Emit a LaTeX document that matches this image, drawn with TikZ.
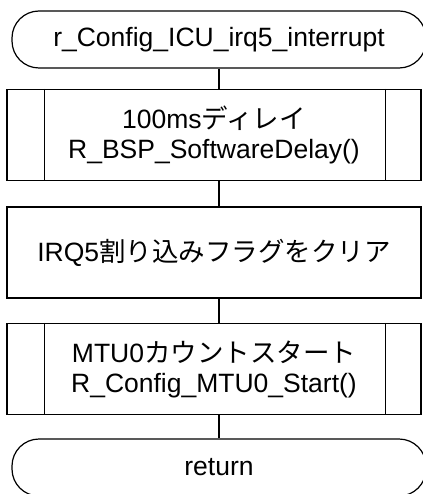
\documentclass[tikz,border=0pt]{standalone}
\usepackage{fontspec}
\setmainfont{Liberation Sans}
\newfontfamily\jpfont{Noto Sans CJK JP}

\tikzset{
  flow/.style={draw, line width=1.2pt, align=center, inner sep=2pt,
    font=\fontsize{26.5}{30}\selectfont},
  term/.style={flow, rounded corners=27pt, minimum width=414pt, minimum height=57pt},
  proc/.style={flow, minimum width=414pt, minimum height=91pt},
}

\begin{document}
\begin{tikzpicture}[x=1pt, y=-1pt]
    \useasboundingbox (0, 0) rectangle (422, 494);
    % flow nodes
    \node[term] (start) at (219, 39.5) {r\_Config\_ICU\_irq5\_interrupt};
    \node[proc] (delay) at (214, 135) {100ms{\jpfont ディレイ}\\R\_BSP\_SoftwareDelay()};
    \node[proc] (clear) at (214, 252.5) {IRQ5{\jpfont 割り込みフラグをクリア}};
    \node[proc] (mtu) at (214, 369) {MTU0{\jpfont カウントスタート}\\R\_Config\_MTU0\_Start()};
    \node[term] (ret) at (219, 467.5) {return};
    % side bars of the subroutine boxes
    \foreach \n in {delay, mtu} {
        \draw[line width=1.2pt] ([xshift=38pt]\n.north west) -- ([xshift=38pt]\n.south west);
        \draw[line width=1.2pt] ([xshift=-36pt]\n.north east) -- ([xshift=-36pt]\n.south east);
    }
    % connectors
    \draw[line width=1.2pt] (start.south) -- (start.south |- delay.north);
    \draw[line width=1.2pt] (start.south |- delay.south) -- (start.south |- clear.north);
    \draw[line width=1.2pt] (start.south |- clear.south) -- (start.south |- mtu.north);
    \draw[line width=1.2pt] (start.south |- mtu.south) -- (ret.north);
\end{tikzpicture}
\end{document}
